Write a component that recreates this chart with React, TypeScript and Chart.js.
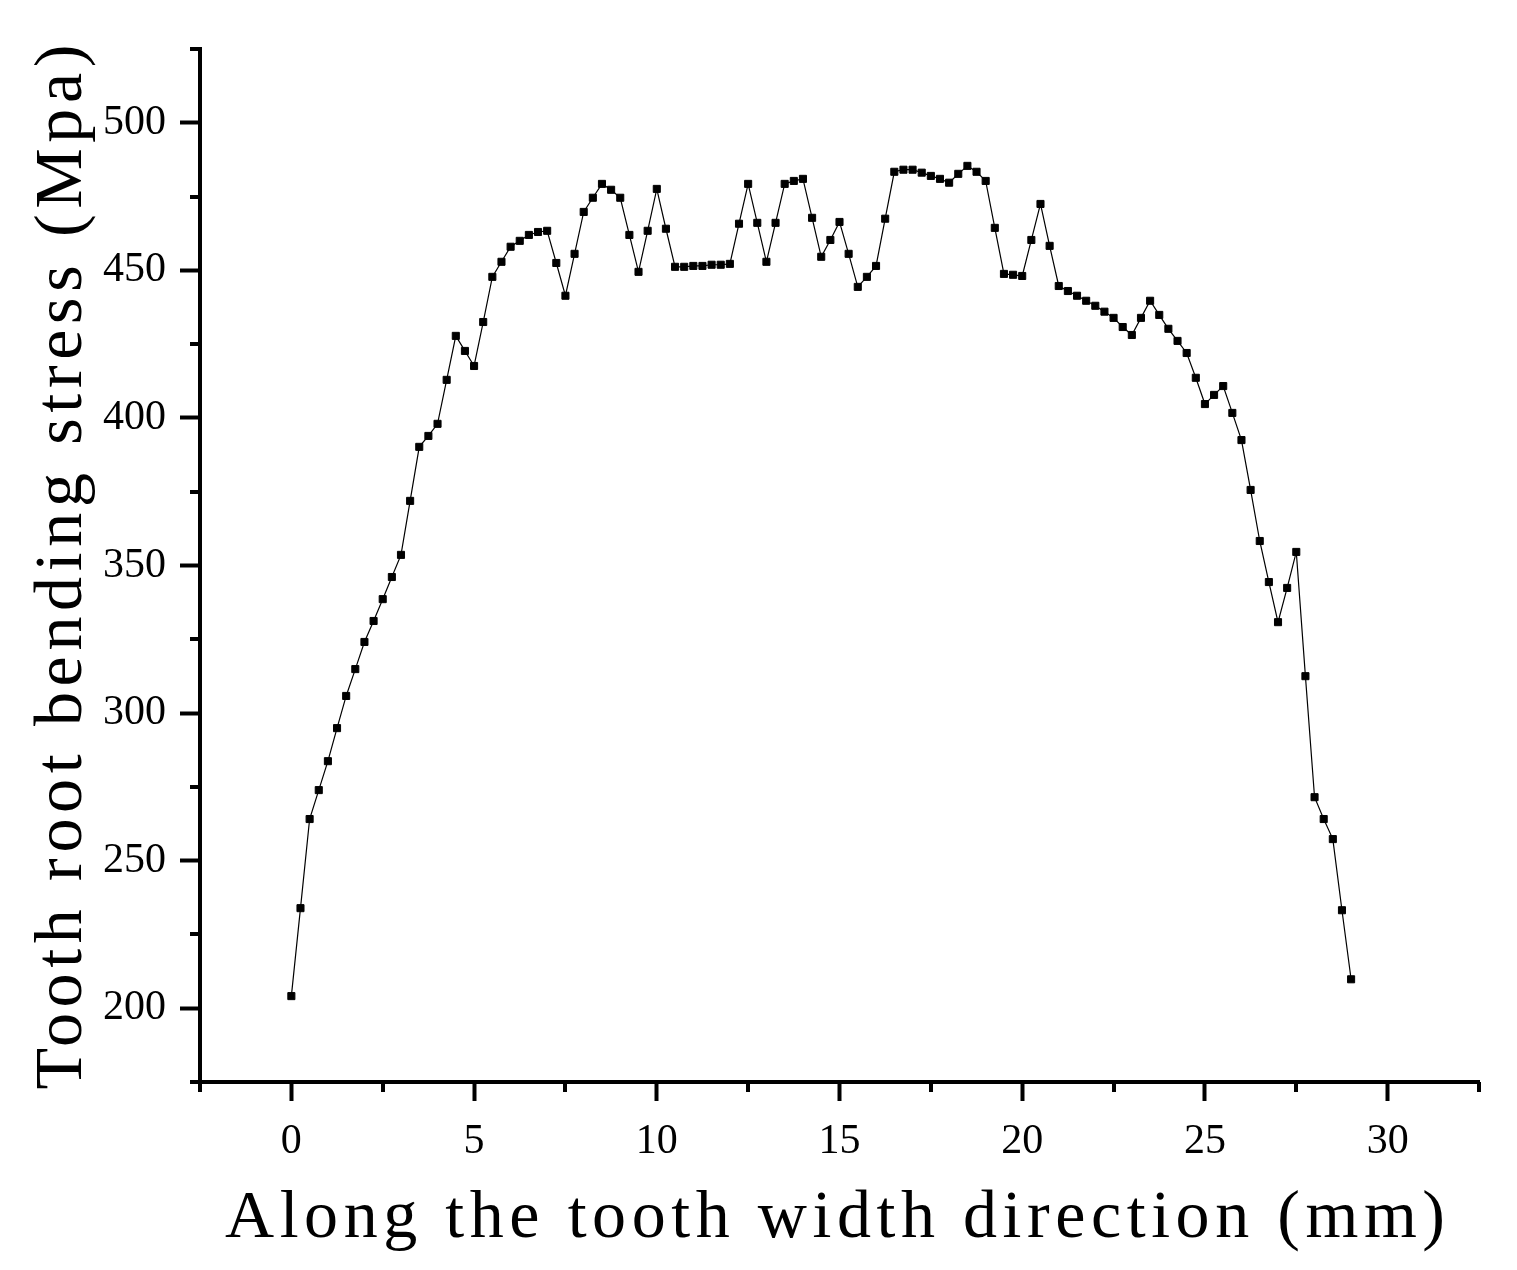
import { useEffect, useRef } from 'react';
import { Chart, registerables } from 'chart.js';

Chart.register(...registerables);

const xPositions = [
  0, 0.25, 0.5, 0.75, 1, 1.25, 1.5, 1.75, 2, 2.25, 2.5, 2.75, 3, 3.25, 3.5, 3.75,
  4, 4.25, 4.5, 4.75, 5, 5.25, 5.5, 5.75, 6, 6.25, 6.5, 6.75, 7, 7.25, 7.5, 7.75,
  8, 8.25, 8.5, 8.75, 9, 9.25, 9.5, 9.75, 10, 10.25, 10.5, 10.75, 11, 11.25, 11.5, 11.75,
  12, 12.25, 12.5, 12.75, 13, 13.25, 13.5, 13.75, 14, 14.25, 14.5, 14.75, 15, 15.25, 15.5, 15.75,
  16, 16.25, 16.5, 16.75, 17, 17.25, 17.5, 17.75, 18, 18.25, 18.5, 18.75, 19, 19.25, 19.5, 19.75,
  20, 20.25, 20.5, 20.75, 21, 21.25, 21.5, 21.75, 22, 22.25, 22.5, 22.75, 23, 23.25, 23.5, 23.75,
  24, 24.25, 24.5, 24.75, 25, 25.25, 25.5, 25.75, 26, 26.25, 26.5, 26.75, 27, 27.25, 27.5, 27.75,
  28, 28.25, 28.5, 28.75, 29,
];

const stressValues = [
  204.1, 233.9, 264.1, 273.9, 283.7, 294.9, 305.8, 314.9, 324.1, 331.2, 338.6, 346.1, 353.6, 371.9, 390.2, 393.9,
  398.0, 412.9, 427.8, 422.7, 417.6, 432.5, 447.8, 452.9, 458.0, 460.0, 462.0, 463.0, 463.4, 452.5, 441.4, 455.6,
  469.8, 474.6, 479.3, 477.3, 474.6, 462.0, 449.5, 463.4, 477.6, 464.1, 451.2, 451.2, 451.5, 451.5, 451.9, 451.9,
  452.2, 465.8, 479.3, 466.1, 452.9, 466.1, 479.3, 480.3, 481.0, 467.8, 454.6, 460.3, 466.4, 455.6, 444.4, 447.8,
  451.5, 467.5, 483.4, 484.1, 484.1, 483.1, 482.0, 481.0, 479.7, 482.7, 485.4, 483.4, 480.3, 464.4, 448.8, 448.5,
  448.1, 460.3, 472.5, 458.3, 444.7, 443.0, 441.4, 439.7, 438.0, 436.0, 433.9, 430.8, 428.1, 433.9, 439.7, 434.9,
  430.2, 426.1, 422.0, 413.6, 404.7, 407.8, 410.8, 401.7, 392.5, 375.6, 358.3, 344.4, 330.8, 342.4, 354.6, 312.5,
  271.5, 264.1, 257.3, 233.2, 209.8,
];

const xMajorTicks = [0, 5, 10, 15, 20, 25, 30];
const yMajorTicks = [200, 250, 300, 350, 400, 450, 500];
const xMinorTicks = [-2.5, 2.5, 7.5, 12.5, 17.5, 22.5, 27.5, 32.5];
const yMinorTicks = [175, 225, 275, 325, 375, 425, 475, 525];

const xTitle = 'Along the tooth width direction (mm)';
const yTitle = 'Tooth root bending stress (Mpa)';

function drawSpacedText(ctx: CanvasRenderingContext2D, text: string, cx: number, cy: number, target: number, rotate: boolean) {
  ctx.save();
  ctx.font = '68px "Liberation Serif", serif';
  (ctx as any).letterSpacing = '0px';
  const natural = ctx.measureText(text).width;
  const spacing = (target - natural) / (text.length - 1);
  (ctx as any).letterSpacing = spacing + 'px';
  ctx.translate(cx, cy);
  if (rotate) ctx.rotate(-Math.PI / 2);
  ctx.textAlign = 'left';
  ctx.textBaseline = 'alphabetic';
  ctx.fillStyle = '#000';
  ctx.fillText(text, -target / 2, 0);
  ctx.restore();
}

const decorPlugin = {
  id: 'decor',
  afterDraw(chart: any) {
    const ctx: CanvasRenderingContext2D = chart.ctx;
    const { left, bottom } = chart.chartArea;
    const xs = chart.scales.x;
    const ys = chart.scales.y;
    ctx.save();
    ctx.strokeStyle = '#000';
    ctx.lineWidth = 4;
    ctx.lineCap = 'butt';
    xMinorTicks.forEach((v) => {
      const p = Math.round(xs.getPixelForValue(v));
      ctx.beginPath();
      ctx.moveTo(p, bottom);
      ctx.lineTo(p, bottom + 10);
      ctx.stroke();
    });
    yMinorTicks.forEach((v) => {
      const p = Math.round(ys.getPixelForValue(v));
      ctx.beginPath();
      ctx.moveTo(left - 10, p);
      ctx.lineTo(left, p);
      ctx.stroke();
    });
    ctx.restore();
    drawSpacedText(ctx, xTitle, 835, 1237, 1220, false);
    drawSpacedText(ctx, yTitle, 81, 567, 1045, true);
  },
};

export default function App() {
  const canvasRef = useRef<HTMLCanvasElement | null>(null);

  useEffect(() => {
    if (!canvasRef.current) return;
    const points = xPositions.map((x, i) => ({ x, y: stressValues[i] }));
    const chart = new Chart(canvasRef.current, {
      type: 'line',
      data: {
        datasets: [
          {
            data: points,
            borderColor: '#000',
            backgroundColor: '#000',
            borderWidth: 1.2,
            pointStyle: 'rect',
            pointRadius: 5,
            pointBorderWidth: 1,
            pointBackgroundColor: '#000',
            pointBorderColor: '#000',
            tension: 0,
            fill: false,
          },
        ],
      },
      options: {
        animation: false,
        responsive: true,
        maintainAspectRatio: false,
        parsing: false as any,
        layout: { padding: { top: 49, right: 38, left: 0, bottom: 0 } },
        plugins: {
          legend: { display: false },
          tooltip: { enabled: false },
        },
        scales: {
          x: {
            type: 'linear',
            min: -2.5,
            max: 32.5,
            afterBuildTicks: (scale: any) => {
              scale.ticks = xMajorTicks.map((v) => ({ value: v }));
            },
            afterFit: (scale: any) => {
              scale.height = 188;
              scale.paddingLeft = 0;
              scale.paddingRight = 0;
            },
            ticks: {
              color: '#000',
              padding: 16,
              maxRotation: 0,
              autoSkip: false,
              font: { family: '"Liberation Serif", serif', size: 42 },
            },
            grid: {
              display: true,
              drawOnChartArea: false,
              drawTicks: true,
              tickLength: 19,
              tickWidth: 4,
              tickColor: '#000',
            },
            border: { display: true, color: '#000', width: 4 },
            title: { display: false },
          },
          y: {
            type: 'linear',
            min: 175,
            max: 525,
            afterBuildTicks: (scale: any) => {
              scale.ticks = yMajorTicks.map((v) => ({ value: v }));
            },
            afterFit: (scale: any) => {
              scale.width = 200;
              scale.paddingTop = 0;
              scale.paddingBottom = 0;
            },
            ticks: {
              color: '#000',
              padding: 14,
              autoSkip: false,
              font: { family: '"Liberation Serif", serif', size: 42 },
            },
            grid: {
              display: true,
              drawOnChartArea: false,
              drawTicks: true,
              tickLength: 20,
              tickWidth: 4,
              tickColor: '#000',
            },
            border: { display: true, color: '#000', width: 4 },
            title: { display: false },
          },
        },
      },
      plugins: [decorPlugin],
    });
    return () => chart.destroy();
  }, []);

  return (
    <div style={{ position: 'absolute', left: 0, top: 0, width: 1517, height: 1270, background: '#fff' }}>
      <canvas ref={canvasRef} />
    </div>
  );
}
